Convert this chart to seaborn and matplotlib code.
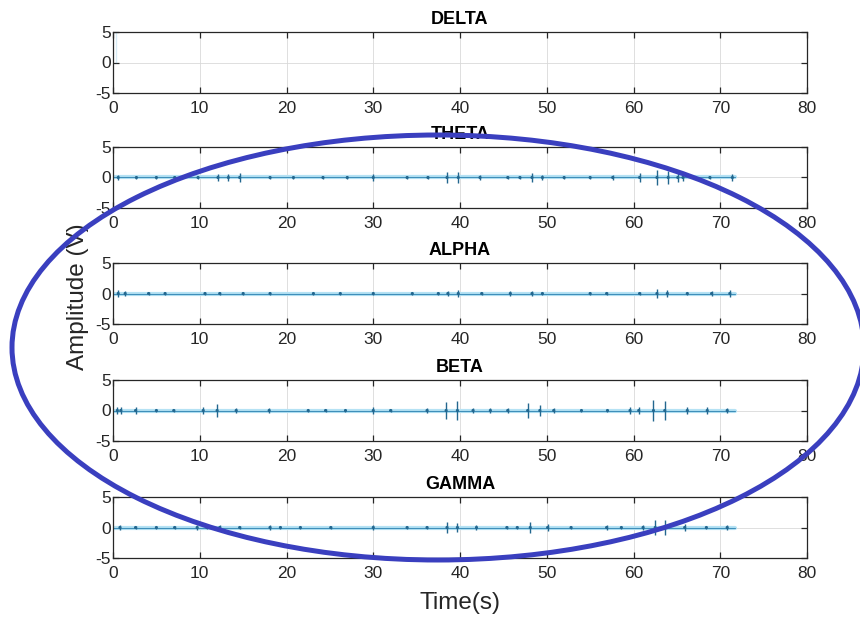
import matplotlib
matplotlib.use("Agg")
import matplotlib.pyplot as plt
import seaborn as sns
import pandas as pd
from matplotlib.patches import Ellipse

# ---------------- data ----------------
band_names = ["DELTA", "THETA", "ALPHA", "BETA", "GAMMA"]
x_ticks = [0, 10, 20, 30, 40, 50, 60, 70, 80]
y_ticks = [-5, 0, 5]
signal_start = 0.0
signal_end = 71.7

delta_t = [0.4, 0.4]
delta_v = [5.0, 0.0]

theta_t = [0.6, 2.7, 5.0, 7.1, 9.8, 12.1, 13.3, 14.6, 18.1, 20.8, 24.2, 27.0, 30.0, 33.9, 36.3, 38.5,
           39.8, 42.3, 45.5, 46.9, 48.3, 49.5, 52.0, 55.0, 57.6, 60.7, 62.7, 64.0, 65.1, 65.7, 68.8, 71.4]
theta_a = [0.4, 0.3, 0.3, 0.3, 0.3, 0.6, 0.6, 0.7, 0.3, 0.3, 0.3, 0.3, 0.5, 0.3, 0.3, 0.9,
           0.9, 0.4, 0.3, 0.3, 0.7, 0.4, 0.3, 0.3, 0.4, 0.7, 1.3, 1.0, 0.8, 0.6, 0.3, 0.5]

alpha_t = [0.6, 1.4, 4.1, 6.0, 10.6, 12.3, 15.0, 18.1, 23.1, 26.2, 30.0, 34.5, 37.5, 38.6, 39.8,
           42.5, 45.8, 48.3, 49.5, 55.0, 56.9, 60.7, 62.7, 63.9, 66.2, 69.0, 71.1]
alpha_a = [0.5, 0.4, 0.2, 0.2, 0.3, 0.3, 0.2, 0.2, 0.2, 0.2, 0.2, 0.2, 0.2, 0.4, 0.5,
           0.3, 0.4, 0.4, 0.3, 0.2, 0.2, 0.3, 0.7, 0.5, 0.3, 0.4, 0.5]

beta_t = [0.5, 0.9, 2.6, 5.0, 7.0, 10.4, 12.0, 14.2, 18.0, 22.5, 24.5, 26.8, 30.0, 32.0, 36.2, 38.4,
          39.7, 41.5, 43.5, 45.5, 47.8, 49.2, 50.8, 54.0, 57.0, 59.6, 60.6, 62.3, 63.6, 66.2, 68.5, 70.8]
beta_a = [0.6, 0.5, 0.5, 0.3, 0.3, 0.5, 1.0, 0.4, 0.4, 0.3, 0.3, 0.3, 0.5, 0.3, 0.4, 1.4,
          1.5, 0.4, 0.4, 0.4, 1.2, 0.9, 0.4, 0.3, 0.3, 0.5, 0.5, 1.8, 1.5, 0.5, 0.5, 0.4]

gamma_t = [0.8, 2.6, 5.0, 7.1, 9.7, 10.8, 12.3, 14.6, 18.1, 19.3, 21.6, 25.1, 30.0, 33.9, 36.2, 38.5,
           39.7, 41.9, 45.4, 46.6, 48.1, 50.1, 52.8, 56.9, 58.6, 61.1, 62.5, 63.6, 65.9, 68.4, 70.8]
gamma_a = [0.4, 0.3, 0.3, 0.3, 0.4, 0.3, 0.4, 0.3, 0.4, 0.3, 0.3, 0.3, 0.4, 0.3, 0.3, 0.9,
           0.8, 0.4, 0.3, 0.3, 0.9, 0.5, 0.3, 0.4, 0.3, 0.4, 1.2, 1.3, 0.5, 0.3, 0.4]

bursts = {
    "THETA": (theta_t, theta_a),
    "ALPHA": (alpha_t, alpha_a),
    "BETA": (beta_t, beta_a),
    "GAMMA": (gamma_t, gamma_a),
}

# ---------------- style ----------------
sns.set_theme(style="white")
plt.rcParams["font.family"] = ["Liberation Sans", "DejaVu Sans"]

fig = plt.figure(figsize=(8.6, 6.21), dpi=100)

left, width, height = 113 / 860, 694 / 860, 61 / 621
bottoms_px = [93, 208, 324, 441, 558]

halo_c = "#b5e2f4"
line_c = "#3f8fba"
spike_c = "#23678f"
axis_c = "#262626"

for name, bpx in zip(band_names, bottoms_px):
    ax = fig.add_axes([left, 1 - bpx / 621, width, height])
    if name == "DELTA":
        sns.lineplot(x=delta_t, y=delta_v, ax=ax, color="#3a9fd0", lw=1.4, sort=False)
    else:
        ts, amps = bursts[name]
        base = pd.DataFrame({"t": [signal_start, signal_end], "v": [0.0, 0.0]})
        sns.lineplot(data=base, x="t", y="v", ax=ax, color=halo_c, lw=3.0)
        sns.lineplot(data=base, x="t", y="v", ax=ax, color=line_c, lw=0.8)
        ax.vlines(ts, [-a for a in amps], amps, color=spike_c, lw=1.0, zorder=3)
        sns.scatterplot(x=ts, y=[0.0] * len(ts), ax=ax, s=5, color=spike_c,
                        edgecolor="none", zorder=4)
    ax.set_xlim(0, 80)
    ax.set_ylim(-5, 5)
    ax.set_xticks(x_ticks)
    ax.set_yticks(y_ticks)
    ax.set_xticklabels([str(v) for v in x_ticks])
    ax.set_yticklabels([str(v) for v in y_ticks])
    ax.set_xlabel("")
    ax.set_ylabel("")
    ax.grid(True, color="#d9d9d9", lw=0.6)
    ax.set_axisbelow(True)
    ax.tick_params(axis="both", direction="in", length=4.5, width=0.9, colors=axis_c,
                   labelsize=12.5, top=True, right=True, left=True, bottom=True)
    ax.tick_params(axis="x", pad=5.5)
    ax.tick_params(axis="y", pad=1.5)
    for sp in ax.spines.values():
        sp.set_visible(True)
        sp.set_color(axis_c)
        sp.set_linewidth(0.9)
    ax.set_title(name, fontsize=13, fontweight="bold", color="black", pad=6)

fig.text(460 / 860, 1 - 603 / 621, "Time(s)", ha="center", va="center", fontsize=17.5,
         color=axis_c)
fig.text(78 / 860, 1 - 297 / 621, "Amplitude (V)", ha="center", va="center", fontsize=17.5,
         rotation=90, color=axis_c)

ell = Ellipse((438 / 860, 1 - 347.5 / 621), 852 / 860, 425 / 621, transform=fig.transFigure,
              fill=False, edgecolor="#3a3fbf", lw=3.6, zorder=10)
fig.add_artist(ell)

fig.savefig("out.png", dpi=100)
